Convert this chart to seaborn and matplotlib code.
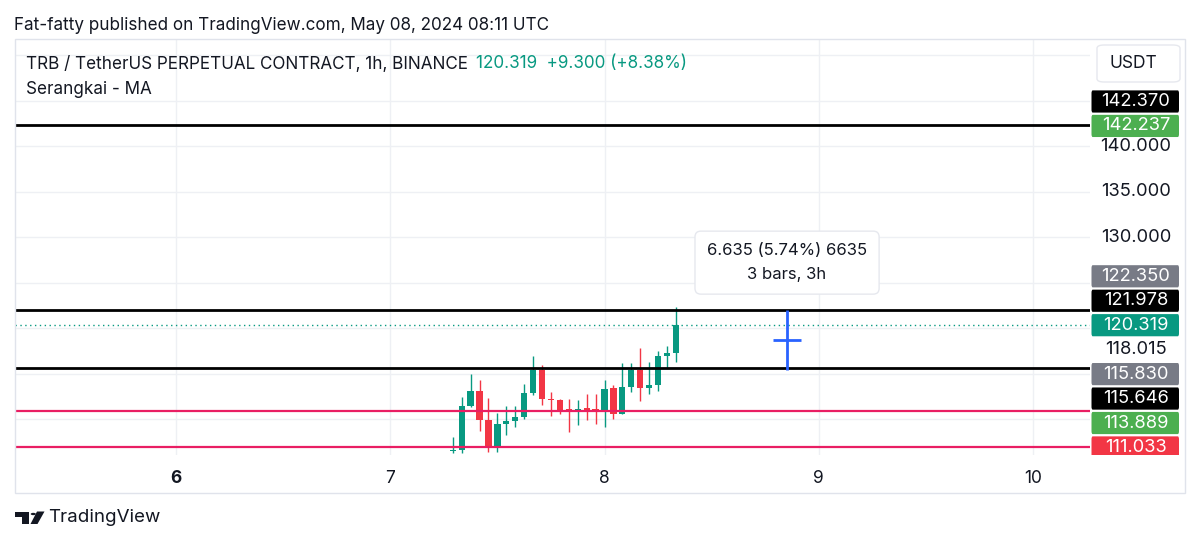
import numpy as np
import pandas as pd
import matplotlib
matplotlib.use("Agg")
import matplotlib.pyplot as plt
import seaborn as sns
from matplotlib.patches import Rectangle, FancyBboxPatch, Polygon, Circle

# ---------------- data ----------------
start_time = "2024-05-07 07:00"
opens  = [106.50, 106.60, 111.45, 113.10, 109.90, 106.80, 109.40, 109.75, 110.20, 112.85,
          115.40, 112.20, 112.05, 111.05, 110.90, 111.20, 111.10, 110.95, 113.40, 110.55,
          113.50, 115.40, 113.40, 113.75, 116.95, 117.30]
highs  = [108.00, 112.45, 114.95, 114.30, 112.30, 110.70, 111.40, 111.40, 113.85, 116.95,
          115.95, 112.95, 112.20, 112.20, 112.10, 112.80, 112.80, 114.30, 113.75, 116.20,
          116.20, 117.80, 116.30, 117.50, 118.05, 122.35]
lows   = [106.30, 106.30, 111.30, 108.70, 106.40, 106.40, 108.20, 109.10, 110.00, 112.60,
          111.50, 110.30, 110.50, 108.60, 109.30, 109.90, 109.40, 109.10, 110.00, 110.50,
          113.00, 112.00, 112.75, 113.10, 115.60, 116.30]
closes = [106.60, 111.45, 113.10, 109.90, 106.80, 109.40, 109.75, 110.20, 112.85, 115.40,
          112.20, 112.05, 111.00, 110.95, 111.10, 111.00, 110.95, 113.30, 110.55, 113.50,
          115.40, 113.40, 113.75, 116.95, 117.30, 120.319]

black_levels = [142.370, 121.978, 115.646]
pink_levels = [110.88, 106.87]
last_price = 120.319

measure_x = 8.852          # day position of the measure tool
measure_low, measure_high = 115.343, 121.978
measure_text = ["6.635 (5.74%) 6635", "3 bars, 3h"]

x_tick_values = [6, 7, 8, 9, 10]
x_tick_labels = ["6", "7", "8", "9", "10"]
y_grid_values = [110, 115, 120, 125, 130, 135, 140, 145, 150]
y_tick_labels_shown = [130, 135, 140]

# price-scale labels: (value, text, background)
scale_labels = [
    (142.370, "142.370", "#000000"),
    (142.237, "142.237", "#4caf50"),
    (122.350, "122.350", "#787b86"),
    (121.978, "121.978", "#000000"),
    (120.319, "120.319", "#089981"),
    (118.015, "118.015", None),
    (115.830, "115.830", "#787b86"),
    (115.646, "115.646", "#000000"),
    (113.889, "113.889", "#4caf50"),
    (111.033, "111.033", "#f23645"),
]

# ---------------- style ----------------
sns.set_theme(style="white")
plt.rcParams["font.family"] = ["Inter", "DejaVu Sans"]
TXT = "#131722"
GREEN = "#089981"
RED = "#f23645"
GRID = "#eef0f4"
BORDER = "#e0e3eb"

W, H = 1200, 544
fig = plt.figure(figsize=(W / 100, H / 100), dpi=100)
fig.patch.set_facecolor("white")

def fx(px):
    return px / W

def fy(py):
    return 1 - py / H

pane_l, pane_r, pane_t, pane_b = 14.5, 1090, 39, 455
ax = fig.add_axes([fx(pane_l), fy(pane_b), fx(pane_r - pane_l), (pane_b - pane_t) / H])
ylo, yhi = 106.04, 151.8
ax.set_ylim(ylo, yhi)
ax.set_xlim(5.2462, 10.266)
for s in ax.spines.values():
    s.set_visible(False)

# grid
ax.set_yticks(y_grid_values)
ax.set_yticklabels([])
ax.set_xticks(x_tick_values)
ax.set_xticklabels(x_tick_labels)
ax.tick_params(axis="both", length=0)
ax.tick_params(axis="x", pad=11, labelsize=12.5, labelcolor=TXT)
ax.grid(True, color=GRID, linewidth=1)
ax.set_axisbelow(True)
ax.get_xticklabels()[0].set_fontweight("bold")

# ---------------- candles ----------------
times = pd.date_range(start_time, periods=len(opens), freq="h")
xpos = times.day + (times.hour / 24.0)  # day of month as float
df = pd.DataFrame({"x": np.asarray(xpos, dtype=float), "open": opens, "high": highs,
                   "low": lows, "close": closes})
df["up"] = df["close"] >= df["open"]
df["color"] = np.where(df["up"], GREEN, RED)
bw = 0.7 / 24

ax.vlines(df["x"], df["low"], df["high"], colors=df["color"], linewidth=1.0, zorder=3)
body_bottom = np.minimum(df["open"], df["close"])
body_h = np.maximum(np.abs(df["close"] - df["open"]), 0.13)
ax.bar(df["x"], body_h, bottom=body_bottom, width=bw, color=df["color"], linewidth=0, zorder=4)

# ---------------- horizontal levels ----------------
xl = ax.get_xlim()
lv = pd.DataFrame({"x": np.tile(list(xl), len(black_levels)),
                   "y": np.repeat(black_levels, 2),
                   "g": np.repeat(range(len(black_levels)), 2)})
sns.lineplot(data=lv, x="x", y="y", units="g", estimator=None, color="black",
             linewidth=2.0, ax=ax, zorder=5, legend=False)
pv = pd.DataFrame({"x": np.tile(list(xl), len(pink_levels)),
                   "y": np.repeat(pink_levels, 2),
                   "g": np.repeat(range(len(pink_levels)), 2)})
sns.lineplot(data=pv, x="x", y="y", units="g", estimator=None, color="#e91e63",
             linewidth=1.6, ax=ax, zorder=5, legend=False)
ax.axhline(last_price, color=GREEN, linestyle=(0, (1, 2.5)), linewidth=1.0, zorder=5)
ax.set_xlim(xl)
ax.set_ylim(ylo, yhi)
ax.set_xlabel("")
ax.set_ylabel("")

# ---------------- measure tool ----------------
BLUE = "#2962ff"
ax.vlines(measure_x, measure_low, measure_high, color=BLUE, linewidth=2.0, zorder=6)
mid = (measure_low + measure_high) / 2
ax.hlines(mid, measure_x - 0.066, measure_x + 0.066, color=BLUE, linewidth=2.0, zorder=6)
ax.text(measure_x, 127.2, "\n".join(measure_text), ha="center", va="center",
        fontsize=12, color=TXT, linespacing=1.75, zorder=7,
        bbox=dict(boxstyle="round,pad=0.72,rounding_size=0.35", fc="white", ec="#e6e8ee", lw=1))

# ---------------- price scale ----------------
ax2 = fig.add_axes([fx(pane_r), fy(pane_b), fx(1185 - pane_r), (pane_b - pane_t) / H])
ax2.set_ylim(ylo, yhi)
ax2.set_xlim(0, 95)
ax2.axis("off")

gap = 2.69
vals = [v for v, _, _ in scale_labels]
pos = {}
pos[last_price] = last_price
prev = last_price
for v in sorted([v for v in vals if v > last_price]):
    p = max(v, prev + gap)
    pos[v] = p
    prev = p
prev = last_price
for v in sorted([v for v in vals if v < last_price], reverse=True):
    p = min(v, prev - gap)
    pos[v] = p
    prev = p

LFS = 13.2
for v, t, bg in scale_labels:
    p = pos[v]
    if bg is not None:
        r = FancyBboxPatch((1.5, p - 1.22), 87.5, 2.44,
                           boxstyle="round,pad=0,rounding_size=1.2",
                           mutation_aspect=gap / 10,
                           fc=bg, ec="none", zorder=3, clip_on=True)
        ax2.add_patch(r)
        tt = ax2.text(46, p, t, ha="center", va="center", fontsize=LFS, color="white",
                      zorder=4, clip_on=True)
    else:
        tt = ax2.text(46, p, t, ha="center", va="center", fontsize=LFS, color=TXT,
                      zorder=4, clip_on=True)
    tt.set_clip_path(ax2.patch)

for v in y_tick_labels_shown:
    ax2.text(46, v, f"{v:.3f}", ha="center", va="center", fontsize=LFS, color=TXT)

# USDT box
fig.patches.append(FancyBboxPatch((fx(1097), fy(82)), fx(83), (82 - 45) / H,
                                  boxstyle="round,pad=0,rounding_size=0.006",
                                  transform=fig.transFigure, fc="white", ec="#e6e8ee", lw=1))
fig.text(fx(1133), fy(64), "USDT", ha="center", va="center", fontsize=12.5, color=TXT)

# outer frame
fig.patches.append(Rectangle((fx(14.5), fy(493)), fx(1185 - 14.5), (493 - 39) / H,
                             transform=fig.transFigure, fill=False, ec=BORDER, lw=1))

# ---------------- header ----------------
HFS = 12.3
fig.text(fx(14), fy(25), "Fat-fatty published on TradingView.com, May 08, 2024 08:11 UTC",
         ha="left", va="center", fontsize=HFS, color=TXT)
fig.text(fx(26), fy(64), "TRB / TetherUS PERPETUAL CONTRACT, 1h, BINANCE",
         ha="left", va="center", fontsize=HFS, color=TXT)
fig.text(fx(476), fy(64), "120.319  +9.300 (+8.38%)",
         ha="left", va="center", fontsize=HFS, color=GREEN)
fig.text(fx(26), fy(89), "Serangkai - MA", ha="left", va="center", fontsize=HFS, color=TXT)

# ---------------- logo ----------------
LOGO = "#131722"
def fpoly(pts, **kw):
    fig.patches.append(Polygon([(fx(a), fy(b)) for a, b in pts], closed=True,
                               transform=fig.transFigure, **kw))
fpoly([(14.5, 511.5), (29, 511.5), (29, 524), (22, 524), (22, 516.8), (14.5, 516.8)], fc=LOGO, ec="none")
fig.patches.append(Circle((fx(33.3), fy(514)), 2.6 / W, transform=fig.transFigure, fc=LOGO, ec="none"))
fpoly([(37, 511.5), (44.5, 511.5), (37.5, 524), (30.5, 524)], fc=LOGO, ec="none")
fig.text(fx(48), fy(518), "TradingView", ha="left", va="center", fontsize=13.5, color=LOGO)

fig.savefig("out.png", dpi=100)
